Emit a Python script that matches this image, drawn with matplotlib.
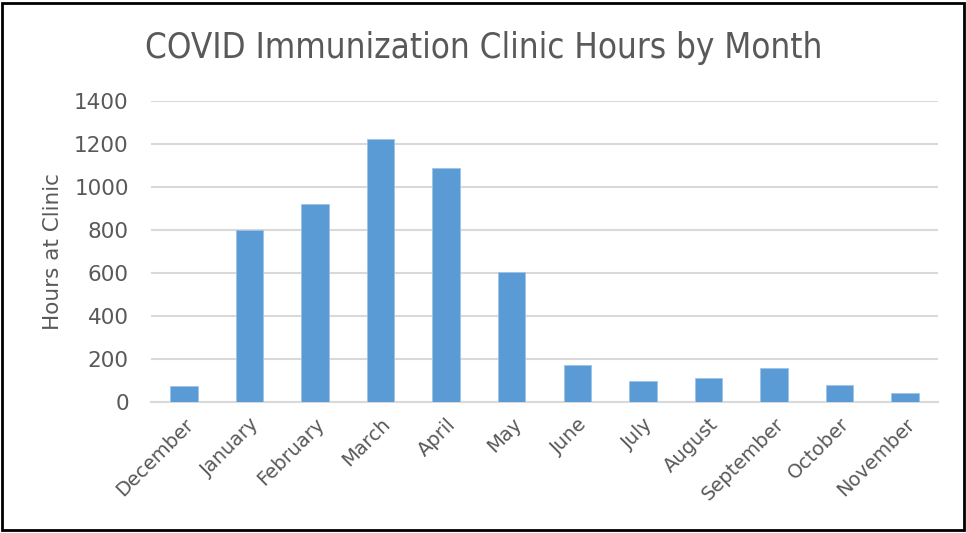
import matplotlib.pyplot as plt
from matplotlib.patches import Rectangle
import numpy as np

months = ["December", "January", "February", "March", "April", "May",
          "June", "July", "August", "September", "October", "November"]
hours = [75, 800, 920, 1225, 1090, 605, 172, 98, 112, 158, 81, 44]
y_ticks = [0, 200, 400, 600, 800, 1000, 1200, 1400]

text_color = "#595959"
bar_color = "#5B9BD5"
grid_color = "#D9D9D9"

fig = plt.figure(figsize=(9.66, 5.33), dpi=100)
ax = fig.add_axes([151 / 966, 1 - 402 / 533, (938 - 151) / 966, (402 - 101) / 533])

x = np.arange(len(months))
ax.bar(x, hours, width=0.42, color=bar_color, edgecolor="#9DC3E6", linewidth=0.6, zorder=3)

ax.set_xlim(-0.5, len(months) - 0.5)
ax.set_ylim(0, 1400)
ax.set_yticks(y_ticks)
ax.set_yticklabels([str(v) for v in y_ticks], fontsize=15.5, color=text_color)
ax.set_xticks(x)
ax.set_xticklabels(months, rotation=45, ha="right", rotation_mode="anchor",
                   fontsize=14, color=text_color)
ax.tick_params(axis="both", length=0)
ax.tick_params(axis="y", pad=16)
ax.tick_params(axis="x", pad=9)

ax.grid(axis="y", color=grid_color, linewidth=1.5, zorder=0)
for side in ["top", "right", "left"]:
    ax.spines[side].set_visible(False)
ax.spines["bottom"].set_color(grid_color)
ax.spines["bottom"].set_linewidth(1.5)

ax.set_ylabel("Hours at Clinic", fontsize=15.5, color=text_color, labelpad=8)

fig.text(484 / 966, 1 - 48 / 533, "COVID Immunization Clinic Hours by Month",
         fontsize=25, color=text_color, ha="center", va="center",
         family="DejaVu Sans", stretch="condensed", weight="light")

# black frame round the chart
fig.patches.append(Rectangle((0.002, 0.006), 0.996, 0.988, transform=fig.transFigure,
                             fill=False, edgecolor="black", linewidth=2))

fig.savefig("out.png", dpi=100)
